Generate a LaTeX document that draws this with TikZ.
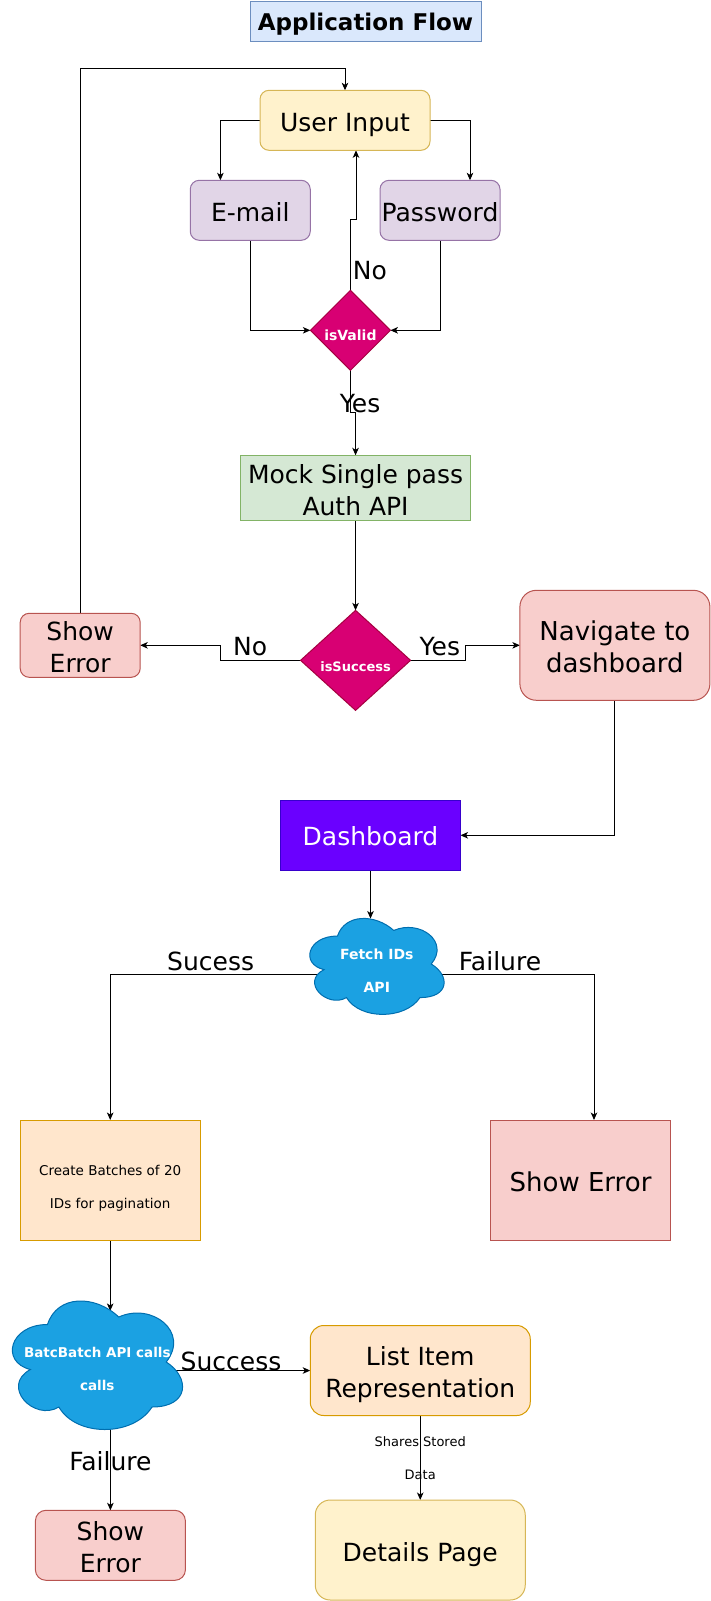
\documentclass[tikz,border=0pt]{standalone}
\usepackage{fontspec}
\setmainfont{DejaVu Sans}
\usetikzlibrary{shapes.geometric,arrows.meta,calc}
\pgfdeclarelayer{bg}\pgfsetlayers{bg,main}
\definecolor{tfill}{HTML}{DAE8FC}\definecolor{tdraw}{HTML}{6C8EBF}
\definecolor{yfill}{HTML}{FFF2CC}\definecolor{ydraw}{HTML}{D6B656}
\definecolor{pfill}{HTML}{E1D5E7}\definecolor{pdraw}{HTML}{9673A6}
\definecolor{gfill}{HTML}{D5E8D4}\definecolor{gdraw}{HTML}{82B366}
\definecolor{mfill}{HTML}{D80073}\definecolor{mdraw}{HTML}{A50040}
\definecolor{rfill}{HTML}{F8CECC}\definecolor{rdraw}{HTML}{B85450}
\definecolor{vfill}{HTML}{6A00FF}\definecolor{vdraw}{HTML}{3700CC}
\definecolor{bfill}{HTML}{1BA1E2}\definecolor{bdraw}{HTML}{006EAF}
\definecolor{ofill}{HTML}{FFE6CC}\definecolor{odraw}{HTML}{D79B00}
\newcommand{\tx}[2][-5pt]{\raisebox{#1}[\height][\depth]{\begin{tabular}{@{}c@{}}#2\end{tabular}}}
\newcommand{\dcloud}[4]{\begin{scope}[shift={(#1,#2)},x=#3pt,y=-#4pt]
 \draw[cloudsty] (0.25,0.25) .. controls (0.05,0.25) and (0,0.5) .. (0.16,0.55)
  .. controls (0,0.66) and (0.18,0.9) .. (0.31,0.8)
  .. controls (0.4,1) and (0.7,1) .. (0.8,0.8)
  .. controls (1,0.8) and (1,0.6) .. (0.875,0.5)
  .. controls (1,0.3) and (0.8,0.1) .. (0.625,0.2)
  .. controls (0.5,0.05) and (0.3,0.05) .. (0.25,0.25) -- cycle;
 \end{scope}}
\tikzset{
 base/.style={draw, line width=1pt, inner sep=0pt, outer sep=0pt, font=\fontsize{25}{32}\selectfont},
 ttl/.style={base, fill=tfill, draw=tdraw, font=\fontsize{23}{28}\selectfont\bfseries},
 ybox/.style={base, fill=yfill, draw=ydraw},
 pbox/.style={base, fill=pfill, draw=pdraw},
 gbox/.style={base, fill=gfill, draw=gdraw},
 rbox/.style={base, fill=rfill, draw=rdraw},
 vbox/.style={base, fill=vfill, draw=vdraw, text=white},
 obox/.style={base, fill=ofill, draw=odraw},
 dia/.style={base, diamond, fill=mfill, draw=mdraw, text=white, font=\fontsize{14}{17}\selectfont\bfseries},
 ctext/.style={inner sep=0pt, outer sep=0pt, text=white, font=\fontsize{14}{33}\selectfont\bfseries},
 cloudsty/.style={fill=bfill, draw=bdraw, line width=1pt},
 lbl/.style={inner sep=0pt, font=\fontsize{25}{32}\selectfont},
 arr/.style={line width=1pt, -{Stealth[length=7.5pt,width=6.5pt,inset=2pt]}},
}
\begin{document}
\begin{tikzpicture}[x=1pt,y=-1pt]
\useasboundingbox (0,0) rectangle (711,1601);
% clouds
\dcloud{300}{908}{150}{112}
\dcloud{0}{1287}{190}{150}
% nodes
\node[ttl, minimum width=231pt, minimum height=40pt] (title) at (365.5,21) {\tx[-3.5pt]{Application Flow}};
\node[ybox, rounded corners=9pt, minimum width=170pt, minimum height=60pt] (input) at (345,120.3) {\tx{User Input}};
\node[pbox, rounded corners=9pt, minimum width=120pt, minimum height=60pt] (email) at (250.25,210.3) {\tx{E-mail}};
\node[pbox, rounded corners=9pt, minimum width=120pt, minimum height=60pt] (pass) at (440,210.3) {\tx{Password}};
\node[dia, minimum width=80pt, minimum height=80pt] (valid) at (350.4,330.3) {\tx[-6.4pt]{isValid}};
\node[gbox, minimum width=230pt, minimum height=65pt] (mock) at (355.55,487.8) {\tx{Mock Single pass\\Auth API}};
\node[dia, minimum width=110pt, minimum height=100pt, font=\fontsize{13}{17}\selectfont\bfseries] (success) at (355.55,660.35) {\tx[-8pt]{isSuccess}};
\node[rbox, rounded corners=9pt, minimum width=120pt, minimum height=60pt] (err1) at (80.2,645.3) {\tx{Show\\Error}};
\node[rbox, rounded corners=16.5pt, minimum width=190pt, minimum height=110pt, font=\fontsize{26}{32}\selectfont] (nav) at (614.9,645.3) {\tx{Navigate to\\dashboard}};
\node[vbox, minimum width=180pt, minimum height=70pt] (dash) at (370.5,835.3) {\tx[-4pt]{Dashboard}};
\node[ctext, minimum width=134.6pt, minimum height=95.7pt] (fetch) at (376.8,966.4) {\tx[-2.5pt]{Fetch IDs\\API}};
\node[obox, minimum width=180pt, minimum height=120pt, font=\fontsize{13.5}{33}\selectfont] (batches) at (110.2,1180) {\tx[-5.7pt]{Create Batches of 20\\IDs for pagination}};
\node[rbox, minimum width=180pt, minimum height=120pt, font=\fontsize{26}{32}\selectfont] (err2) at (580.5,1180) {\tx{Show Error}};
\node[ctext, minimum width=170.2pt, minimum height=128.5pt, font=\fontsize{13.5}{33}\selectfont\bfseries] (bcloud) at (97.3,1365.2) {\tx[-2.5pt]{BatcBatch API calls\\calls}};
\node[obox, rounded corners=13.5pt, minimum width=220pt, minimum height=90pt] (list) at (420.25,1370.5) {\tx{List Item\\Representation}};
\node[ybox, rounded corners=15pt, minimum width=210pt, minimum height=100pt] (details) at (420.25,1550) {\tx{Details Page}};
\node[rbox, rounded corners=10.5pt, minimum width=150pt, minimum height=70pt] (err3) at (110.4,1545.3) {\tx{Show\\Error}};
% labels
\node[lbl] (lno1) at (369.8,273.2) {\tx[0pt]{No}};
\node[lbl] (lyes1) at (360.1,405.7) {\tx[0pt]{Yes}};
\node[lbl] (lno2) at (250.1,649) {\tx[0pt]{No}};
\node[lbl] (lyes2) at (439.9,649) {\tx[0pt]{Yes}};
\node[lbl] (lsucess) at (210.6,964.4) {\tx[0pt]{Sucess}};
\node[lbl] (lfail1) at (500,964.4) {\tx[0pt]{Failure}};
\node[lbl] (lsuccess) at (231,1364.4) {\tx[0pt]{Success}};
\node[lbl] (lfail2) at (110.4,1464.4) {\tx[0pt]{Failure}};
\node[lbl, font=\fontsize{13}{33}\selectfont] (lshares) at (420.25,1456) {\tx[0pt]{Shares Stored\\Data}};
% connectors
\begin{pgfonlayer}{bg}
\path (err1.north) ++(0,-545) coordinate (looptop);
\draw[arr] (err1.north) -- (looptop) -| (input.north);
\draw[arr] (input.west) -| ([xshift=-29.85pt]email.north);
\draw[arr] (input.east) -| ([xshift=30pt]pass.north);
\draw[arr] (email.south) |- (valid.west);
\draw[arr] (pass.south) |- (valid.east);
\draw[arr] (valid.north) -- ++(0,-70.4) -| ([xshift=11pt]input.south);
\draw[arr] (valid.south) -- ++(0,42) -| (mock.north);
\draw[arr] (mock.south) -- (success.north);
\draw[arr] (success.west) -- ++(-80.3,0) |- (err1.east);
\draw[arr] (success.east) -- ++(54.9,0) |- (nav.west);
\draw[arr] (nav.south) |- (dash.east);
\draw[arr] (dash.south) -- (dash.south |- fetch.north);
\draw[arr] ([xshift=10pt,yshift=-8pt]fetch.west) -| (batches.north);
\draw[arr] ([xshift=-5pt,yshift=-8pt]fetch.east) -| ([xshift=13.5pt]err2.north);
\draw[arr] (batches.south) -- ($(batches.south |- bcloud.north)+(0,10)$);
\draw[arr] ($(bcloud.east)+(-10,5.3)$) -- (list.west);
\draw[arr] ($(err3.north |- bcloud.south)+(0,-5)$) -- (err3.north);
\draw[arr] (list.south) -- (details.north);
\end{pgfonlayer}
\end{tikzpicture}
\end{document}
